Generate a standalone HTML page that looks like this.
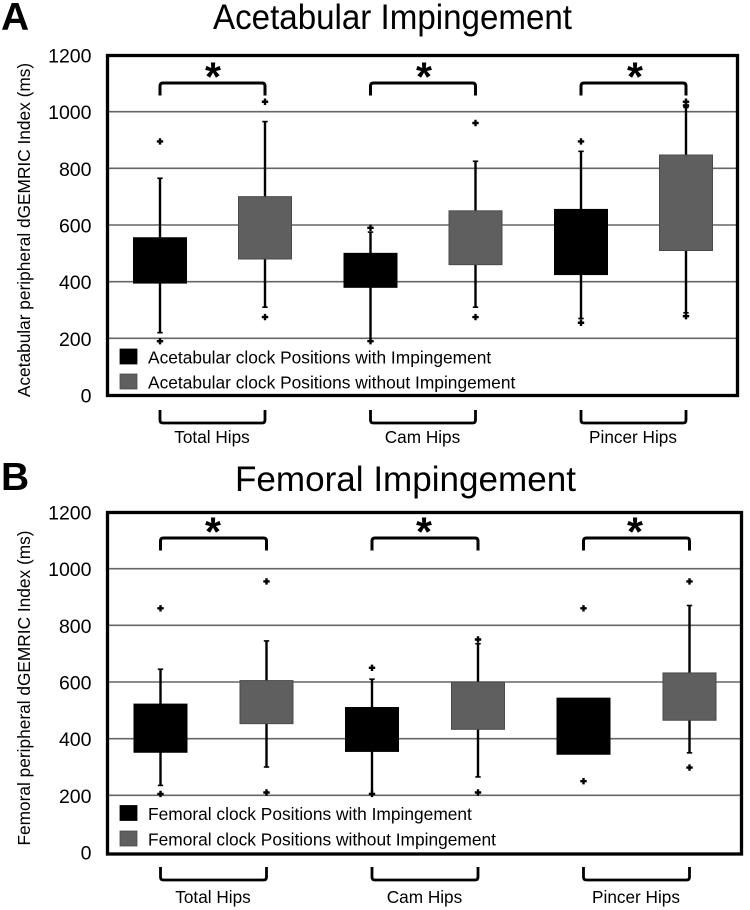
<!DOCTYPE html>
<html lang="en">
<head>
<meta charset="utf-8">
<title>Acetabular and Femoral Impingement</title>
<style>
html,body{margin:0;padding:0;background:#fff;}
svg{display:block;font-family:"Liberation Sans",sans-serif;filter:blur(0.35px);}
</style>
</head>
<body>
<svg id="chart" xmlns="http://www.w3.org/2000/svg" width="750" height="910" viewBox="0 0 750 910"></svg>
<script>
// ---- shared data ----
const yTicks = [0, 200, 400, 600, 800, 1000, 1200];
const gridValues = [200, 400, 600, 800, 1000];
const groupLabels = ['Total Hips', 'Cam Hips', 'Pincer Hips'];

// ---- panel A data (with impingement / without impingement per group) ----
const aWithQ1 = [395, 380, 425];
const aWithQ3 = [555, 500, 655];
const aWithLow = [220, 190, 270];
const aWithHigh = [765, 575, 860];
const aWithOutliers = [[895, 190], [590, 190], [895, 255]];
const aWithoutQ1 = [480, 460, 510];
const aWithoutQ3 = [700, 650, 847];
const aWithoutLow = [310, 310, 290];
const aWithoutHigh = [965, 825, 1015];
const aWithoutOutliers = [[1035, 275], [960, 275], [1035, 1022, 278]];

// ---- panel B data ----
const bWithQ1 = [352, 355, 345];
const bWithQ3 = [522, 510, 543];
const bWithLow = [235, 205, null];
const bWithHigh = [645, 610, null];
const bWithOutliers = [[860, 205], [650, 205], [860, 250]];
const bWithoutQ1 = [453, 433, 465];
const bWithoutQ3 = [605, 600, 632];
const bWithoutLow = [300, 265, 350];
const bWithoutHigh = [745, 735, 870];
const bWithoutOutliers = [[955, 210], [750, 210], [955, 298]];

const svg = document.getElementById('chart');
const NS = 'http://www.w3.org/2000/svg';

function make(tag, props, parent) {
  const el = document.createElementNS(NS, tag);
  for (const k in props) el.setAttribute(k, props[k]);
  (parent || svg).appendChild(el);
  return el;
}

function drawPanel(p) {
  const y = v => p.y0 + (p.y1200 - p.y0) * v / 1200;
  const catX = (g, s) => p.x0 + g * p.groupStep + s * p.seriesStep;

  const panel = make('g', {});
  
  

  // panel letter
  const letter = make('text', {x: p.letterX, y: p.letterY, 'font-size': 39, 'font-weight': 'bold', fill: '#000'}, panel);
  letter.textContent = p.letter;
  
  

  // title
  const title = make('text', {x: p.titleX, y: p.titleY, 'font-size': 35, 'text-anchor': 'middle', fill: '#000',
    textLength: p.titleLen, lengthAdjust: 'spacingAndGlyphs'}, panel);
  title.textContent = p.title;
  
  

  // y axis title
  const yTitle = make('text', {x: 0, y: 0, 'font-size': 17.3, 'text-anchor': 'middle', fill: '#000',
    transform: 'translate(' + p.yTitleX + ' ' + p.yTitleY + ') rotate(-90)'}, panel);
  yTitle.textContent = p.yTitle;
  
  

  // y tick labels
  yTicks.forEach(function (t) {
    const lab = make('text', {x: 91.5, y: y(t) + 7.5, 'font-size': 19.5, 'text-anchor': 'end', fill: '#000'}, panel);
    lab.textContent = t;
    
    
  });

  // gridlines
  gridValues.forEach(function (t) {
    const ln = make('line', {x1: p.frameL, x2: p.frameR, y1: y(t), y2: y(t), stroke: '#666', 'stroke-width': 1.6}, panel);
    
    
  });

  // boxes
  p.series.forEach(function (s, si) {
    groupLabels.forEach(function (g, gi) {
      const cx = catX(gi, si);
      const box = make('g', {}, panel);
      
      
      if (s.high[gi] !== null) {
        make('line', {x1: cx, x2: cx, y1: y(s.high[gi]), y2: y(s.low[gi]), stroke: '#000', 'stroke-width': 2.4}, box);
        make('line', {x1: cx - 2.7, x2: cx + 2.7, y1: y(s.high[gi]), y2: y(s.high[gi]), stroke: '#000', 'stroke-width': 1.6}, box);
        make('line', {x1: cx - 2.7, x2: cx + 2.7, y1: y(s.low[gi]), y2: y(s.low[gi]), stroke: '#000', 'stroke-width': 1.6}, box);
      }
      make('rect', {x: cx - 26.5, width: 53, y: y(s.q3[gi]), height: y(s.q1[gi]) - y(s.q3[gi]),
        fill: s.fill, stroke: s.stroke, 'stroke-width': 1}, box);
      s.outliers[gi].forEach(function (o) {
        make('path', {d: 'M' + (cx - 3.2) + ' ' + y(o) + 'H' + (cx + 3.2) + 'M' + cx + ' ' + (y(o) - 3.2) + 'V' + (y(o) + 3.2),
          stroke: '#000', 'stroke-width': 2.4, fill: 'none'}, box);
      });
    });
  });

  // frame
  const frame = make('rect', {x: p.frameL, y: p.frameT, width: p.frameR - p.frameL, height: p.frameB - p.frameT,
    fill: 'none', stroke: '#000', 'stroke-width': 3.3}, panel);
  
  

  // significance and group brackets
  groupLabels.forEach(function (g, gi) {
    const xa = catX(gi, 0), xb = catX(gi, 1);
    const top = make('path', {d: 'M' + xa + ' ' + (p.sigY + 12.5) + 'V' + (p.sigY + 3) + 'Q' + xa + ' ' + p.sigY + ' ' + (xa + 3) + ' ' + p.sigY +
      'H' + (xb - 3) + 'Q' + xb + ' ' + p.sigY + ' ' + xb + ' ' + (p.sigY + 3) + 'V' + (p.sigY + 12.5),
      fill: 'none', stroke: '#000', 'stroke-width': 3}, panel);
    
    

    const star = make('text', {x: 213 + 211 * gi, y: p.sigY + 7.5, 'font-size': 41, 'font-weight': 'bold', 'text-anchor': 'middle', fill: '#000'}, panel);
    star.textContent = '*';
    
    

    const bot = make('path', {d: 'M' + xa + ' ' + p.brY + 'V' + (p.brY + 10) + 'Q' + xa + ' ' + (p.brY + 13) + ' ' + (xa + 3) + ' ' + (p.brY + 13) +
      'H' + (xb - 3) + 'Q' + xb + ' ' + (p.brY + 13) + ' ' + xb + ' ' + (p.brY + 10) + 'V' + p.brY,
      fill: 'none', stroke: '#000', 'stroke-width': 2.8}, panel);
    
    

    const lab = make('text', {x: (xa + xb) / 2 - 0.5, y: p.labY, 'font-size': 17.2, 'text-anchor': 'middle', fill: '#000'}, panel);
    lab.textContent = g;
    
    
  });

  // legend
  p.series.forEach(function (s, si) {
    const entry = make('g', {}, panel);
    
    
    make('rect', {x: 120, y: p.legY[si], width: 17, height: 15, fill: s.fill, stroke: s.stroke, 'stroke-width': 0.8}, entry);
    const txt = make('text', {x: 148, y: p.legY[si] + 14.5, 'font-size': 17.35, fill: '#000'}, entry);
    txt.textContent = s.label;
  });
}

drawPanel({
  id: 'acetabular', letter: 'A', letterX: 1, letterY: 30,
  title: 'Acetabular Impingement', titleX: 392.5, titleY: 29, titleLen: 359,
  yTitle: 'Acetabular peripheral dGEMRIC Index (ms)', yTitleX: 30, yTitleY: 230,
  y0: 395, y1200: 55,
  frameL: 107.5, frameR: 737.5, frameT: 55.5, frameB: 395.5,
  x0: 160, groupStep: 210.5, seriesStep: 105,
  sigY: 83, brY: 410, labY: 443,
  legY: [349, 374],
  series: [
    {key: 'with', fill: '#000', stroke: '#000', label: 'Acetabular clock Positions with Impingement',
      q1: aWithQ1, q3: aWithQ3, low: aWithLow, high: aWithHigh, outliers: aWithOutliers},
    {key: 'without', fill: '#5f5f5f', stroke: '#4a4a4a', label: 'Acetabular clock Positions without Impingement',
      q1: aWithoutQ1, q3: aWithoutQ3, low: aWithoutLow, high: aWithoutHigh, outliers: aWithoutOutliers}
  ]
});

drawPanel({
  id: 'femoral', letter: 'B', letterX: 1, letterY: 490,
  title: 'Femoral Impingement', titleX: 405.5, titleY: 491, titleLen: 341,
  yTitle: 'Femoral peripheral dGEMRIC Index (ms)', yTitleX: 30, yTitleY: 688,
  y0: 852, y1200: 512,
  frameL: 107.5, frameR: 741.5, frameT: 512.5, frameB: 854,
  x0: 160.5, groupStep: 211.5, seriesStep: 106,
  sigY: 538, brY: 867, labY: 903,
  legY: [805.5, 831],
  series: [
    {key: 'with', fill: '#000', stroke: '#000', label: 'Femoral clock Positions with Impingement',
      q1: bWithQ1, q3: bWithQ3, low: bWithLow, high: bWithHigh, outliers: bWithOutliers},
    {key: 'without', fill: '#5f5f5f', stroke: '#4a4a4a', label: 'Femoral clock Positions without Impingement',
      q1: bWithoutQ1, q3: bWithoutQ3, low: bWithoutLow, high: bWithoutHigh, outliers: bWithoutOutliers}
  ]
});
</script>
</body>
</html>
